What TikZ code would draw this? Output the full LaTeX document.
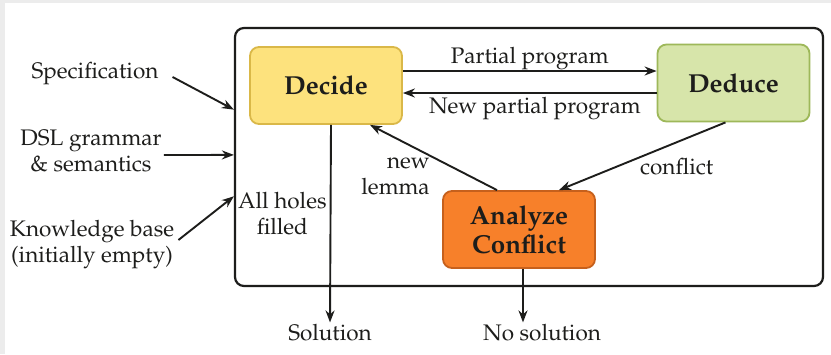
\documentclass[tikz,border=0pt]{standalone}
\usepackage[T1]{fontenc}
\usepackage{mathpazo}
\usepackage{tikz}
\usetikzlibrary{positioning,arrows.meta,calc}
\definecolor{colordecide}     {RGB}{253,226,125}
\definecolor{colordecideline} {RGB}{218,184, 72}
\definecolor{colordeduce}     {RGB}{215,229,170}
\definecolor{colordeduceline} {RGB}{158,184, 90}
\definecolor{coloranalyze}    {RGB}{247,128, 42}
\definecolor{coloranalyzeline}{RGB}{198, 96, 28}
\definecolor{colortext}       {RGB}{ 29, 29, 27}
\definecolor{colorback}       {RGB}{236,236,236}

\begin{document}
\begin{tikzpicture}[
    x=1pt, y=-1pt,
    font={\fontsize{22.5}{26}\selectfont},
    base/.style={text=colortext,font={\fontsize{26}{29}\selectfont\bfseries},align=center,rectangle,
                 rounded corners=9pt,line width=1.8pt,minimum width=152pt,minimum height=77pt},
    txt/.style={text=colortext,inner sep=2pt,align=center},
    arr/.style={-{Stealth[length=12pt,width=9pt]},line width=1.9pt,colortext},
    frame/.style={draw=colortext,line width=2.2pt,rounded corners=9pt,minimum width=588pt,minimum height=258pt,inner sep=0pt},
]

    \fill[colorback] (0,0) rectangle (831,354);
    \fill[white] (5,3) rectangle (831,354);
    \useasboundingbox (0,0) rectangle (831,354);

    \node[frame] (loop) at (529,157) {};

    \node[base,fill=colordecide,draw=colordecideline]   (decide)  at (326,85.5)  {Decide};
    \node[base,fill=colordeduce,draw=colordeduceline]   (deduce)  at (733.5,83)  {Deduce};
    \node[base,fill=coloranalyze,draw=coloranalyzeline] (analyze) at (519,229.5) {Analyze\\Conflict};

    \node[txt] (spec) at (95,74)   {Specification};
    \node[txt] (dsl)  at (91,151)  {DSL grammar\\\& semantics};
    \node[txt] (kb)   at (92,245)  {Knowledge base\\(initially empty)};
    \node[txt] (sol)  at (330,333) {Solution};
    \node[txt] (nosol) at (542,333) {No solution};

    \coordinate (in1) at ($(loop.north west)!0.318!(loop.south west)$);
    \coordinate (in2) at ($(loop.north west)!0.492!(loop.south west)$);
    \coordinate (in3) at ($(loop.north west)!0.651!(loop.south west)$);

    \draw[arr] ([xshift=12pt,yshift=-3pt]spec.east) -- (in1);
    \draw[arr] ([xshift=0pt,yshift=-4pt]dsl.east) -- (in2);
    \draw[arr] ([xshift=2pt,yshift=5pt]kb.east) -- (in3);

    \draw[arr] ([yshift=14.5pt]decide.east) -- ([yshift=14.5pt]decide.east -| deduce.west)
        node[txt,midway,above,inner sep=0pt] {Partial program};
    \draw[arr] ([yshift=-10pt]deduce.west) -- ([yshift=-10pt]deduce.west -| decide.east)
        node[txt,pos=0.48,below,inner sep=3pt] {New partial program};

    \draw[arr] ([xshift=-8pt]deduce.south) -- ([xshift=40pt]analyze.north)
        node[txt,midway,anchor=west,xshift=-5pt,yshift=-10pt] {conflict};
    \draw[arr] ([xshift=-22pt]analyze.north) -- ([xshift=44pt]decide.south)
        node[txt,pos=0.215,anchor=east,xshift=-37pt,align=right] {new\\lemma};

    \draw[arr] ([xshift=5pt]decide.south) -- (sol.north)
        node[txt,pos=0.45,left=1pt] {All holes\\filled};
    \draw[arr] ([xshift=4pt]analyze.south) -- ([xshift=4pt]analyze.south |- nosol.north);

\end{tikzpicture}
\end{document}
